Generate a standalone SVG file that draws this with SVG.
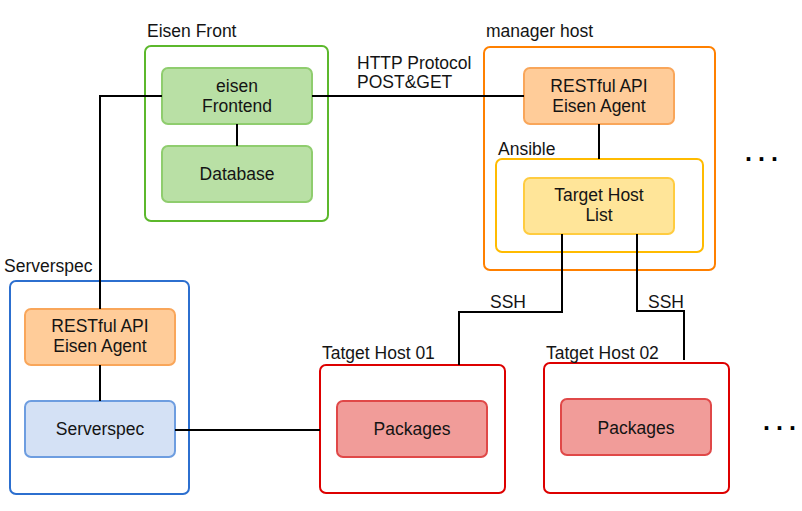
<svg xmlns="http://www.w3.org/2000/svg" width="802" height="511" viewBox="0 0 802 511">
<style>
text{font-family:"Liberation Sans",Arial,sans-serif;font-size:17.5px;fill:#141414}
.c{text-anchor:middle}
.box{stroke-width:2;fill:#fff}
.node{stroke-width:2}
.green{fill:#b9e0a5;stroke:#8fcd6e}
.orange{fill:#ffcc99;stroke:#f9a65a}
.yellow{fill:#ffe599;stroke:#ffcc40}
.blue{fill:#d4e1f5;stroke:#6d9de0}
.red{fill:#f19c99;stroke:#e04848}
.wire{fill:none;stroke:#000;stroke-width:2}
.dots{font-size:25px;font-weight:bold;letter-spacing:6px;fill:#000}
</style>
<rect width="802" height="511" fill="#fff"/>

<g id="eisen-front">
<rect class="box" x="145" y="46" width="183" height="175" rx="6" stroke="#5cb82c"/>
<text x="147" y="37">Eisen Front</text>
</g>
<g id="eisen-frontend">
<rect class="node green" x="162" y="68" width="150" height="56" rx="6"/>
<text class="c" x="237" y="91.5">eisen</text>
<text class="c" x="237" y="111.5">Frontend</text>
</g>
<g id="database">
<rect class="node green" x="162" y="146" width="150" height="56" rx="6"/>
<text class="c" x="237" y="180">Database</text>
</g>

<g id="manager-host">
<rect class="box" x="484" y="47" width="231" height="223" rx="6" stroke="#ff8000"/>
<text x="486" y="37">manager host</text>
</g>
<g id="manager-agent">
<rect class="node orange" x="524" y="68" width="150" height="56" rx="6"/>
<text class="c" x="599" y="91.5">RESTful API</text>
<text class="c" x="599" y="111.5">Eisen Agent</text>
</g>
<g id="ansible">
<rect class="box" x="496" y="159" width="207" height="93" rx="6" stroke="#ffbb00"/>
<text x="498" y="155">Ansible</text>
</g>
<g id="target-host-list">
<rect class="node yellow" x="524" y="178" width="150" height="56" rx="6"/>
<text class="c" x="599" y="201">Target Host</text>
<text class="c" x="599" y="221">List</text>
</g>

<g id="serverspec-container">
<rect class="box" x="10" y="281" width="179" height="213" rx="6" stroke="#2c6fcf"/>
<text x="4" y="272">Serverspec</text>
</g>
<g id="serverspec-agent">
<rect class="node orange" x="25" y="309" width="150" height="56" rx="6"/>
<text class="c" x="100" y="332">RESTful API</text>
<text class="c" x="100" y="352">Eisen Agent</text>
</g>
<g id="serverspec">
<rect class="node blue" x="25" y="401" width="150" height="56" rx="6"/>
<text class="c" x="100" y="435">Serverspec</text>
</g>

<g id="target-host-01">
<rect class="box" x="320" y="365" width="185" height="128" rx="6" stroke="#dd0000"/>
<text x="322" y="359">Tatget Host 01</text>
</g>
<g id="packages-01">
<rect class="node red" x="337" y="401" width="150" height="56" rx="6"/>
<text class="c" x="412" y="434.5">Packages</text>
</g>
<g id="target-host-02">
<rect class="box" x="544" y="363" width="185" height="130" rx="6" stroke="#dd0000"/>
<text x="546" y="359">Tatget Host 02</text>
</g>
<g id="packages-02">
<rect class="node red" x="561" y="399" width="150" height="56" rx="6"/>
<text class="c" x="636" y="433.5">Packages</text>
</g>

<g id="more-managers">
<text class="dots" x="745" y="161">...</text>
</g>
<g id="more-targets">
<text class="dots" x="763" y="430">...</text>
</g>

<g id="connectors">
<polyline class="wire" points="162,96 100,96 100,309"/>
<line class="wire" x1="312" y1="96" x2="524" y2="96"/>
<line class="wire" x1="237" y1="124" x2="237" y2="146"/>
<line class="wire" x1="599" y1="124" x2="599" y2="159"/>
<line class="wire" x1="100" y1="365" x2="100" y2="401"/>
<line class="wire" x1="175" y1="430" x2="320" y2="430"/>
<polyline class="wire" points="562,234 562,312 459,312 459,365"/>
<polyline class="wire" points="637,234 637,311 684,311 684,360"/>
<text x="357" y="69">HTTP Protocol</text>
<text x="357" y="88">POST&amp;GET</text>
<text x="490" y="308">SSH</text>
<text x="648" y="308">SSH</text>
</g>
</svg>
